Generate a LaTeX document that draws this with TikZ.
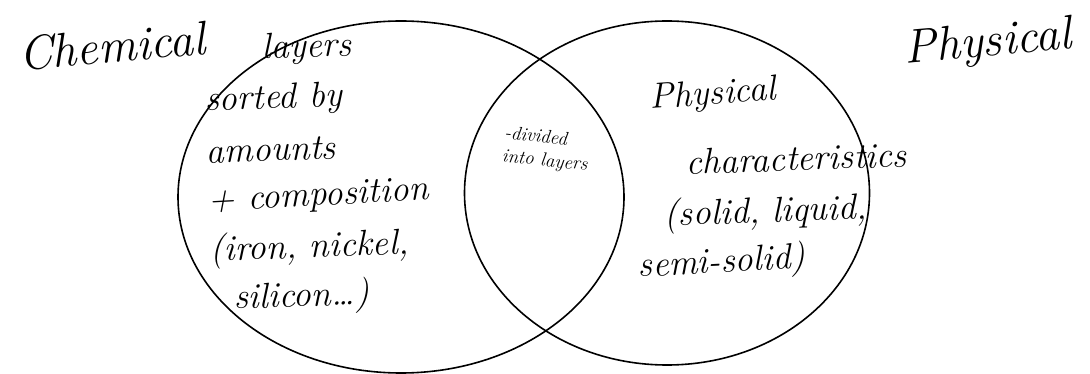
\documentclass[tikz,border=0pt]{standalone}
\usepackage{tikz}
\usetikzlibrary{shapes.geometric, positioning}

\begin{document}
\begin{tikzpicture}[x=1pt, y=-1pt, every node/.style={inner sep=0pt}]
    \tikzstyle{venn} = [ellipse, draw=black, line width=1.6pt]
    \tikzstyle{hand} = [font=\fontsize{36}{40}\selectfont\itshape, anchor=west]
    \tikzstyle{small} = [font=\fontsize{19}{23}\selectfont\itshape, align=left]
    \tikzstyle{title} = [font=\fontsize{48}{52}\selectfont\itshape]

    \useasboundingbox (0,0) rectangle (1090,374);
    \fill[white] (0,0) rectangle (1090,374);

    \node [venn, minimum width=446, minimum height=352] (chem) at (401,197) {};
    \node [venn, minimum width=405, minimum height=344] (phys) at (667,193) {};

    \node [title, rotate=5] (chemT) at (112,46) {Chemical};
    \node [title, rotate=5] (physT) at (988,44) {Physical};

    % chemical side
    \node [hand, rotate=2] (c1) at (262,50) {layers};
    \node [hand, rotate=2] (c2) at (205,102) {sorted by};
    \node [hand, rotate=2] (c3) at (206,152) {amounts};
    \node [hand, rotate=3] (c4) at (208,203) {+ composition};
    \node [hand, rotate=2] (c5) at (210,252) {(iron, nickel,};
    \node [hand, rotate=2] (c6) at (234,300) {silicon\dots)};

    % overlap
    \node [small, rotate=-6] (both) at (546,150) {-divided\\into layers};

    % physical side
    \node [hand, rotate=4] (p1) at (650,100) {Physical};
    \node [hand, rotate=2] (p2) at (686,162) {characteristics};
    \node [hand, rotate=2] (p3) at (664,217) {(solid, liquid,};
    \node [hand, rotate=3] (p4) at (638,268) {semi-solid)};
\end{tikzpicture}
\end{document}
